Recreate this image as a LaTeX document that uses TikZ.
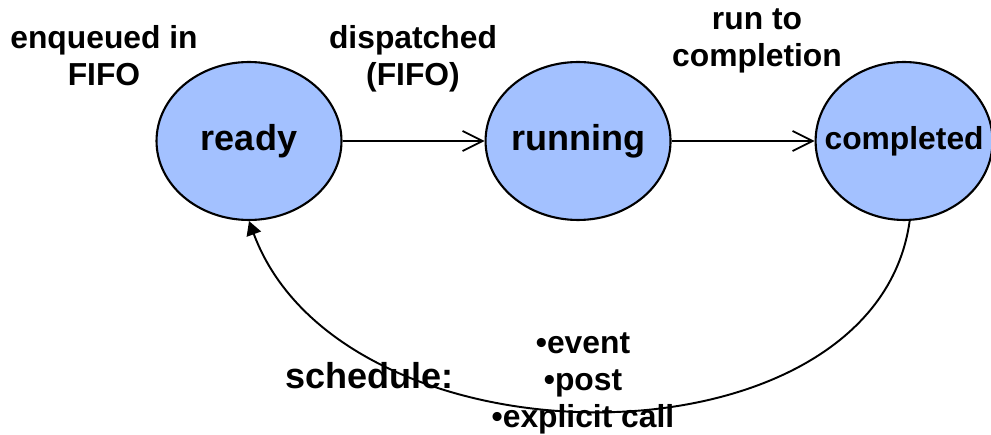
\documentclass[tikz,border=0pt]{standalone}
\usepackage{fontspec}
\setmainfont{Liberation Sans}
\usetikzlibrary{positioning,arrows.meta,shapes.geometric}
\definecolor{stateblue}{RGB}{163,193,255}

\begin{document}
\begin{tikzpicture}[x=0.02cm, y=-0.02cm, >=Stealth,
  state/.style={ellipse, draw, line width=1.2pt, fill=stateblue, inner sep=0pt,
    minimum width=3.7cm, minimum height=3.16cm},
  bigtxt/.style={font=\bfseries\fontsize{20.5}{24}\selectfont},
  lbl/.style={align=center, inner sep=0pt, font=\bfseries\fontsize{18.1}{21.2}\selectfont},
  flow/.style={line width=1pt, -{Straight Barb[length=4mm, width=4mm, line width=1pt]}}]
  \useasboundingbox (0,0) rectangle (991,435);
  \node[state, bigtxt] (ready) at (249,141) {\makebox[0pt]{ready}};
  \node[state, bigtxt, right=2.84cm of ready] (run) {\makebox[0pt]{running}};
  \node[state, lbl, minimum width=3.54cm, right=2.86cm of run] (done) {\makebox[0pt]{completed}};
  \draw[flow] (ready) -- (run);
  \draw[flow] (run) -- (done);
  \draw[line width=1.1pt, -{Triangle[length=2.8mm, width=3mm]}]
    (done.-86) .. controls (875,474) and (343,474) .. (ready.south);
  % labels
  \node[lbl, anchor=north] (enq) at (104,25) {enqueued in\\FIFO};
  \node[lbl, anchor=north] (disp) at (413,25) {dispatched\\(FIFO)};
  \node[lbl, anchor=north] (rtc) at (757,8) {run to\\completion};
  \node[bigtxt, inner sep=0pt, anchor=base west] (sched) at (285,389) {schedule:};
  \node[lbl, anchor=north] (causes) at (583,332) {•event\\•post\\•explicit call};
\end{tikzpicture}
\end{document}
